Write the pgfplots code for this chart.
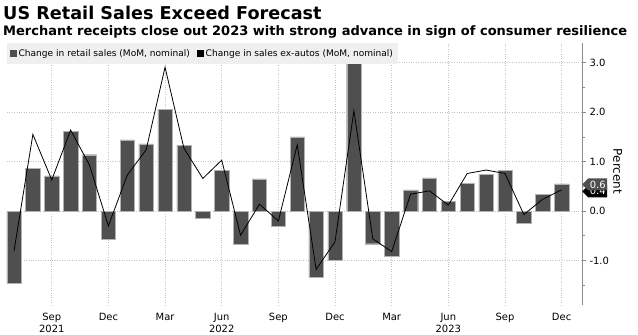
\documentclass[border=0pt]{standalone}
\usepackage{pgfplots}
\pgfplotsset{compat=1.18}
\usepackage{fontspec}
\setmainfont{DejaVu Sans}
\usetikzlibrary{shapes.symbols}
\definecolor{barc}{HTML}{4F4F4F}
\definecolor{gridc}{HTML}{C4C4C4}
\definecolor{legbg}{HTML}{EFEFEF}
\definecolor{axc}{HTML}{8C8C8C}
\pgfplotstableread{
x y
0 -1.45
1 0.87
2 0.71
3 1.61
4 1.14
5 -0.56
6 1.44
7 1.36
8 2.06
9 1.33
10 -0.15
11 0.83
12 -0.68
13 0.65
14 -0.30
15 1.50
16 -1.34
17 -0.99
18 3.00
19 -0.66
20 -0.91
21 0.43
22 0.67
23 0.20
24 0.56
25 0.74
26 0.82
27 -0.25
28 0.34
29 0.55
}\retail
\pgfplotstableread{
x y
0 -0.81
1 1.55
2 0.63
3 1.64
4 0.93
5 -0.30
6 0.73
7 1.24
8 2.91
9 1.27
10 0.66
11 1.03
12 -0.49
13 0.14
14 -0.20
15 1.34
16 -1.18
17 -0.62
18 2.03
19 -0.56
20 -0.82
21 0.34
22 0.41
23 0.12
24 0.76
25 0.83
26 0.76
27 -0.07
28 0.24
29 0.43
}\exautos
\begin{document}
\begin{tikzpicture}[x=1bp,y=1bp]
\path[use as bounding box] (0,0) rectangle (638,334);
\node[anchor=base west, inner sep=0, font=\fontsize{17.7}{20}\selectfont\bfseries] at (3,315) {US Retail Sales Exceed Forecast};
\node[anchor=base west, inner sep=0, font=\fontsize{13.05}{15}\selectfont\bfseries] at (3,299) {Merchant receipts close out 2023 with strong advance in sign of consumer resilience};
\begin{axis}[
 at={(7bp,29bp)}, anchor=south west, scale only axis, width=575bp, height=262bp,
 xmin=-0.37, xmax=30.08, ymin=-1.9, ymax=3.4, clip=false,
 axis y line*=right, axis x line*=bottom, x axis line style={draw=none},
 y axis line style={draw=axc, line width=0.6bp, -},
 xtick={2,5,...,29},
 xticklabels={Sep\\2021,Dec,Mar,Jun\\2022,Sep,Dec,Mar,Jun\\2023,Sep,Dec},
 xtick style={draw=none},
 xticklabel style={align=center, font=\fontsize{10}{12}\selectfont, yshift=-1bp},
 ytick={-1,0,1,2,3}, minor ytick={-1.5,-0.5,0.5,1.5,2.5},
 tick align=outside, ytick style={draw=axc, line width=0.6bp},
 major tick length=4bp, minor tick length=3bp,
 yticklabel style={font=\fontsize{10}{12}\selectfont, /pgf/number format/.cd, fixed, fixed zerofill, precision=1, assume math mode=true},
 ymajorgrids, xmajorgrids, grid style={gridc, dotted, line width=0.6bp},
 ylabel={Percent},
 ylabel style={at={(rel axis cs:1.062,0.51)}, anchor=center, rotate=180, font=\fontsize{12}{14}\selectfont},
 legend style={at={(0,1)}, anchor=north west, fill=legbg, draw=none, legend columns=2,
   font=\fontsize{9.1}{11}\selectfont, inner xsep=3bp, inner ysep=4bp,
   /tikz/every even column/.append style={column sep=5bp}},
 legend cell align=left,
]
\addplot[ybar, bar width=0.76, fill=barc, draw=gray!60, line width=0.4bp,
  legend image code/.code={\fill[barc] (0bp,-3bp) rectangle (6bp,3bp);}] table {\retail};
\addlegendentry{Change in retail sales (MoM, nominal)}
\addplot[black, line width=0.8bp, mark=none, sharp plot,
  legend image code/.code={\fill[black] (0bp,-3bp) rectangle (6bp,3bp);}] table {\exautos};
\addlegendentry{Change in sales ex-autos (MoM, nominal)}
\node[signal, signal to=west, fill=black, text=white, inner sep=1.5bp, minimum height=12bp, anchor=west, font=\fontsize{10}{12}\selectfont] at (axis cs:30.08,0.40) {0.4};
\node[signal, signal to=west, fill=barc, text=white, inner sep=1.5bp, minimum height=12bp, anchor=west, font=\fontsize{10}{12}\selectfont] at (axis cs:30.08,0.54) {0.6};
\end{axis}
\end{tikzpicture}
\end{document}
